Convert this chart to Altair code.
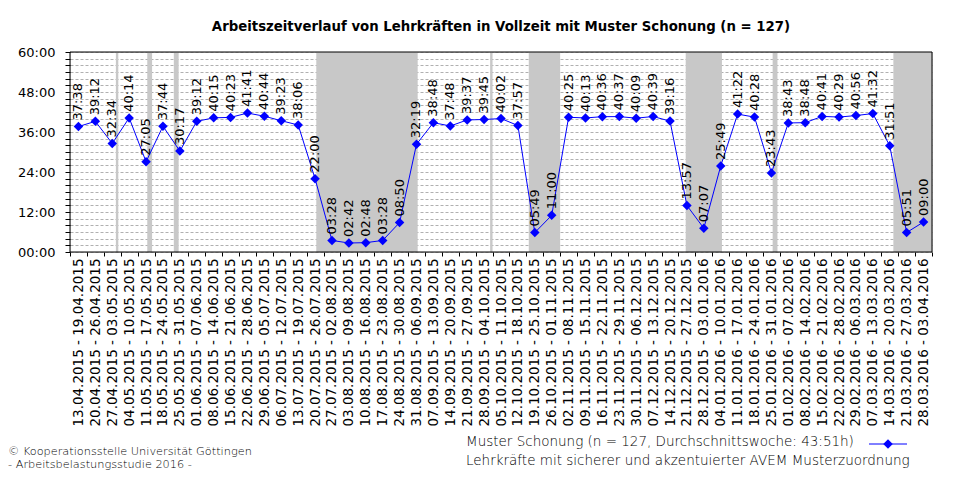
import altair as alt
import pandas as pd
from datetime import date

# ---------------- data ----------------
weeks = [
    "13.04.2015 - 19.04.2015", "20.04.2015 - 26.04.2015", "27.04.2015 - 03.05.2015",
    "04.05.2015 - 10.05.2015", "11.05.2015 - 17.05.2015", "18.05.2015 - 24.05.2015",
    "25.05.2015 - 31.05.2015", "01.06.2015 - 07.06.2015", "08.06.2015 - 14.06.2015",
    "15.06.2015 - 21.06.2015", "22.06.2015 - 28.06.2015", "29.06.2015 - 05.07.2015",
    "06.07.2015 - 12.07.2015", "13.07.2015 - 19.07.2015", "20.07.2015 - 26.07.2015",
    "27.07.2015 - 02.08.2015", "03.08.2015 - 09.08.2015", "10.08.2015 - 16.08.2015",
    "17.08.2015 - 23.08.2015", "24.08.2015 - 30.08.2015", "31.08.2015 - 06.09.2015",
    "07.09.2015 - 13.09.2015", "14.09.2015 - 20.09.2015", "21.09.2015 - 27.09.2015",
    "28.09.2015 - 04.10.2015", "05.10.2015 - 11.10.2015", "12.10.2015 - 18.10.2015",
    "19.10.2015 - 25.10.2015", "26.10.2015 - 01.11.2015", "02.11.2015 - 08.11.2015",
    "09.11.2015 - 15.11.2015", "16.11.2015 - 22.11.2015", "23.11.2015 - 29.11.2015",
    "30.11.2015 - 06.12.2015", "07.12.2015 - 13.12.2015", "14.12.2015 - 20.12.2015",
    "21.12.2015 - 27.12.2015", "28.12.2015 - 03.01.2016", "04.01.2016 - 10.01.2016",
    "11.01.2016 - 17.01.2016", "18.01.2016 - 24.01.2016", "25.01.2016 - 31.01.2016",
    "01.02.2016 - 07.02.2016", "08.02.2016 - 14.02.2016", "15.02.2016 - 21.02.2016",
    "22.02.2016 - 28.02.2016", "29.02.2016 - 06.03.2016", "07.03.2016 - 13.03.2016",
    "14.03.2016 - 20.03.2016", "21.03.2016 - 27.03.2016", "28.03.2016 - 03.04.2016",
]

hours = [
    "37:38", "39:12", "32:34", "40:14", "27:05", "37:44", "30:17", "39:12", "40:15",
    "40:23", "41:41", "40:44", "39:23", "38:06", "22:00", "03:28", "02:42", "02:48",
    "03:28", "08:50", "32:19", "38:48", "37:48", "39:37", "39:45", "40:02", "37:57",
    "05:49", "11:00", "40:25", "40:13", "40:36", "40:37", "40:09", "40:39", "39:16",
    "13:57", "07:07", "25:49", "41:22", "40:28", "23:43", "38:43", "38:48", "40:41",
    "40:29", "40:56", "41:32", "31:51", "05:51", "09:00",
]

# holidays (shaded), first and last day
holiday_start = ["01.05.2015", "14.05.2015", "25.05.2015", "23.07.2015", "03.10.2015",
                 "19.10.2015", "23.12.2015", "28.01.2016", "18.03.2016"]
holiday_end = ["01.05.2015", "15.05.2015", "26.05.2015", "02.09.2015", "03.10.2015",
               "31.10.2015", "06.01.2016", "29.01.2016", "02.04.2016"]

title_text = "Arbeitszeitverlauf von Lehrkräften in Vollzeit mit Muster Schonung (n = 127)"
legend_line1 = "Muster Schonung (n = 127, Durchschnittswoche: 43:51h)"
legend_line2 = "Lehrkräfte mit sicherer und akzentuierter AVEM Musterzuordnung"
credit_line1 = "© Kooperationsstelle Universität Göttingen"
credit_line2 = " - Arbeitsbelastungsstudie 2016 -"

y_ticks = list(range(0, 61, 2))

# ---------------- build tables ----------------
def to_hours(s):
    h, m = s.split(":")
    return int(h) + int(m) / 60.0

def to_date(s):
    d, m, y = s.split(".")
    return date(int(y), int(m), int(d))

origin = date(2015, 4, 12)
n_weeks = len(weeks)

df = pd.DataFrame({
    "pos": [i + 0.5 for i in range(n_weeks)],
    "week": weeks,
    "label": hours,
    "value": [to_hours(h) for h in hours],
})

bands = pd.DataFrame({
    "x0": [(to_date(s) - origin).days / 7.0 for s in holiday_start],
    "x1": [min(n_weeks, ((to_date(e) - origin).days + 1) / 7.0) for e in holiday_end],
})

W, H = 862, 200
FONT = "DejaVu Sans"
LIGHT_FONT = "DejaVu Sans"

labels_js = "[" + ",".join("'" + w + "'" for w in weeks) + "]"

x_scale = alt.Scale(domain=[0, n_weeks], nice=False, zero=False)
y_scale = alt.Scale(domain=[0, 60], nice=False, zero=True)

x_axis = alt.Axis(
    values=list(range(n_weeks + 1)),
    labelExpr=f"datum.value < {n_weeks} ? {labels_js}[datum.value] : ''",
    labelAngle=-90, labelOffset=W / n_weeks / 2, labelFlush=False, labelOverlap=False,
    labelFontSize=13.5, labelFont=FONT, labelColor="#000000", labelPadding=2,
    tickSize=4, tickColor="#000000", domain=False, grid=False, title=None,
)
y_axis = alt.Axis(
    values=y_ticks,
    labelExpr="datum.value % 12 == 0 ? (datum.value < 10 ? '0' : '') + datum.value + ':00' : ''",
    labelFontSize=13, labelFont=FONT, labelColor="#000000", labelPadding=10,
    tickSize=5, tickColor="#000000", domain=False,
    grid=True, gridColor="#b0b0b0", gridDash=[3, 2], gridWidth=1,
    labelOverlap=False, labelFlush=False, title=None,
)

def X(field):
    return alt.X(field, scale=x_scale, axis=x_axis)

def Y(field):
    return alt.Y(field, scale=y_scale, axis=y_axis)

base = alt.Chart(df)

band_layer = alt.Chart(bands).mark_rect(color="#c8c8c8").encode(
    x=X("x0:Q"),
    x2="x1:Q",
    y=alt.datum(0, scale=y_scale, axis=y_axis),
    y2=alt.datum(60),
)

line_layer = base.mark_line(color="#0000ff", strokeWidth=1).encode(
    x=X("pos:Q"), y=Y("value:Q"),
)
point_layer = base.mark_point(shape="diamond", filled=True, size=90, color="#0000ff", opacity=1).encode(
    x=X("pos:Q"), y=Y("value:Q"),
)
text_layer = base.mark_text(angle=270, align="left", baseline="middle", dx=6,
                            font=FONT, fontSize=13, color="#000000").encode(
    x=X("pos:Q"), y=Y("value:Q"),
    text="label:N",
)

border = alt.Chart(pd.DataFrame({"a": [0]})).mark_rect(
    fillOpacity=0, stroke="#000000", strokeWidth=1
).encode(
    x=alt.datum(0, scale=x_scale, axis=x_axis), x2=alt.datum(n_weeks),
    y=alt.datum(0, scale=y_scale, axis=y_axis), y2=alt.datum(60),
)

one = pd.DataFrame({"a": [0]})
leg_text1 = alt.Chart(one).mark_text(align="left", baseline="middle", font=LIGHT_FONT,
                                     fontWeight=200, fontSize=13.5, color="#000000").encode(
    x=alt.value(396), y=alt.value(390), text=alt.value(legend_line1))
leg_text2 = alt.Chart(one).mark_text(align="left", baseline="middle", font=LIGHT_FONT,
                                     fontWeight=200, fontSize=13.5, color="#000000").encode(
    x=alt.value(396), y=alt.value(409), text=alt.value(legend_line2))
leg_rule = alt.Chart(one).mark_rule(color="#0000ff", strokeWidth=1).encode(
    x=alt.value(799), x2=alt.value(837), y=alt.value(392))
leg_point = alt.Chart(one).mark_point(shape="diamond", filled=True, size=90,
                                      color="#0000ff", opacity=1).encode(
    x=alt.value(818), y=alt.value(392))
cred1 = alt.Chart(one).mark_text(align="left", baseline="middle", font=LIGHT_FONT,
                                 fontWeight=200, fontSize=11.3, color="#000000").encode(
    x=alt.value(-62), y=alt.value(400), text=alt.value(credit_line1))
cred2 = alt.Chart(one).mark_text(align="left", baseline="middle", font=LIGHT_FONT,
                                 fontWeight=200, fontSize=11.3, color="#000000").encode(
    x=alt.value(-62), y=alt.value(413), text=alt.value(credit_line2))

chart = alt.layer(
    band_layer, line_layer, point_layer, text_layer, border,
    leg_text1, leg_text2, leg_rule, leg_point, cred1, cred2,
).properties(
    width=W, height=H,
    title=alt.TitleParams(title_text, font=FONT, fontSize=13.3, fontWeight="bold",
                          anchor="middle", offset=13, color="#000000"),
    autosize=alt.AutoSizeParams(type="none"),
    padding={"left": 62, "top": 44, "right": 20, "bottom": 218},
).configure_view(stroke=None).configure(background="#ffffff")

chart.save("out.html", embed_options={"renderer": "svg", "actions": False})
